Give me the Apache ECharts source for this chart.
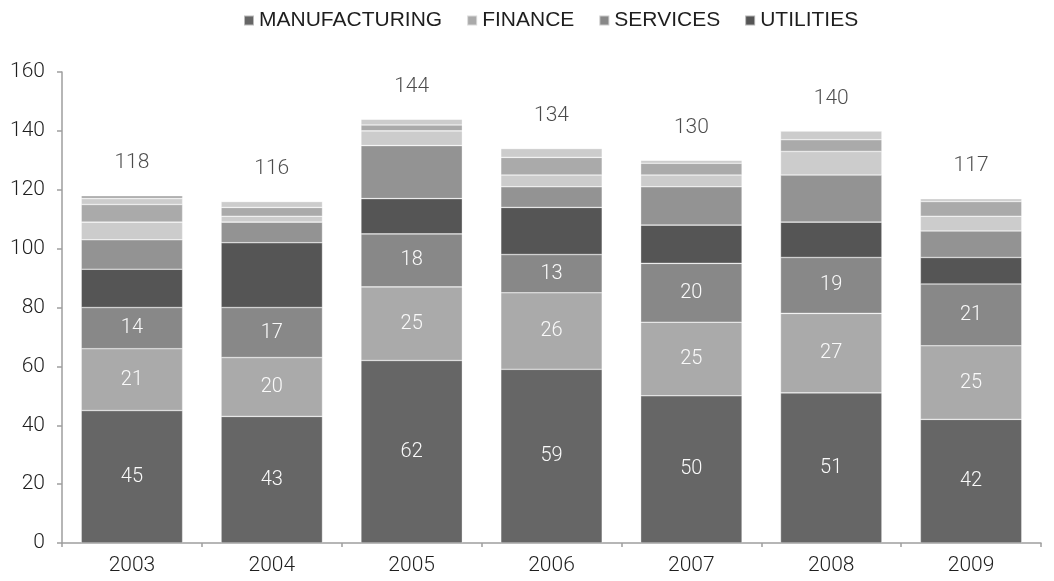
<!DOCTYPE html>
<html>
<head>
<meta charset="utf-8">
<script src="https://cdn.jsdelivr.net/npm/echarts@6/dist/echarts.min.js"></script>
<style>
  html, body { margin: 0; padding: 0; background: #fff; }
  #chart { width: 1054px; height: 581px; }
</style>
</head>
<body>
<div id="chart"></div>
<script>
// Years on the category axis
const years = ['2003', '2004', '2005', '2006', '2007', '2008', '2009'];

// Labelled sectors
const manufacturing = [45, 43, 62, 59, 50, 51, 42];
const finance       = [21, 20, 25, 26, 25, 27, 25];
const services      = [14, 17, 18, 13, 20, 19, 21];
const utilities     = [13, 22, 12, 16, 13, 12, 9];

// Smaller sectors stacked above, not listed in the legend
const otherA = [10, 7, 18, 7, 13, 16, 9];
const otherB = [6, 2, 5, 4, 4, 8, 5];
const otherC = [6, 3, 2, 6, 4, 4, 5];
const otherD = [2, 2, 2, 3, 1, 3, 1];
const otherE = [1, 0, 0, 0, 0, 0, 0];

// Totals printed above each column
const totals = [118, 116, 144, 134, 130, 140, 117];

const yTicks = { min: 0, max: 160, interval: 20 };

const NUM_FONT = 'Roboto, "Liberation Sans", sans-serif';
const LEGEND_FONT = '"Liberation Sans", Arial, sans-serif';

const chart = echarts.init(document.getElementById('chart'), null, { renderer: 'canvas' });

function stackSeries(name, data, color, showLabel) {
  return {
    name: name,
    type: 'bar',
    stack: 'total',
    data: data,
    barWidth: '72.5%',
    itemStyle: { color: color, borderColor: 'rgba(255,255,255,0.55)', borderWidth: 0.6 },
    label: showLabel ? {
      show: true,
      position: 'inside',
      color: '#fafafa',
      fontSize: 20,
      fontWeight: 300,
      fontFamily: NUM_FONT
    } : { show: false },
    emphasis: { disabled: true },
    animation: false
  };
}

const axisText = { fontSize: 21, color: '#1e1e1e', fontWeight: 300, fontFamily: NUM_FONT };

const option = {
  backgroundColor: '#ffffff',
  animation: false,
  legend: {
    data: ['MANUFACTURING', 'FINANCE', 'SERVICES', 'UTILITIES'],
    left: 243,
    top: 10,
    padding: 0,
    itemWidth: 10,
    itemHeight: 10,
    itemGap: 24,
    icon: 'rect',
    textStyle: { fontSize: 21, color: '#1e1e1e', fontFamily: LEGEND_FONT }
  },
  grid: { left: 62, right: 13, top: 72, bottom: 38, containLabel: false },
  xAxis: {
    type: 'category',
    data: years,
    axisLine: { show: true, lineStyle: { color: '#9e9e9e', width: 1.5 } },
    axisTick: { show: true, length: 4, lineStyle: { color: '#9e9e9e', width: 1.5 } },
    axisLabel: Object.assign({ margin: 12 }, axisText)
  },
  yAxis: {
    type: 'value',
    min: yTicks.min,
    max: yTicks.max,
    interval: yTicks.interval,
    splitLine: { show: false },
    axisLine: { show: true, lineStyle: { color: '#9e9e9e', width: 1.5 } },
    axisTick: { show: true, length: 5, lineStyle: { color: '#9e9e9e', width: 1.5 } },
    axisLabel: Object.assign({ margin: 17 }, axisText)
  },
  series: [
    stackSeries('MANUFACTURING', manufacturing, '#666666', true),
    stackSeries('FINANCE', finance, '#aaaaaa', true),
    stackSeries('SERVICES', services, '#888888', true),
    stackSeries('UTILITIES', utilities, '#555555', false),
    stackSeries('Other A', otherA, '#939393', false),
    stackSeries('Other B', otherB, '#cccccc', false),
    stackSeries('Other C', otherC, '#aaaaaa', false),
    stackSeries('Other D', otherD, '#cccccc', false),
    stackSeries('Other E', otherE, '#aaaaaa', false),
    {
      name: 'Total',
      type: 'scatter',
      data: totals,
      symbolSize: 0,
      itemStyle: { color: 'transparent' },
      label: Object.assign({
        show: true,
        position: 'top',
        distance: 22
      }, axisText),
      emphasis: { disabled: true },
      z: 5,
      animation: false
    }
  ]
};

chart.setOption(option);
</script>
</body>
</html>
